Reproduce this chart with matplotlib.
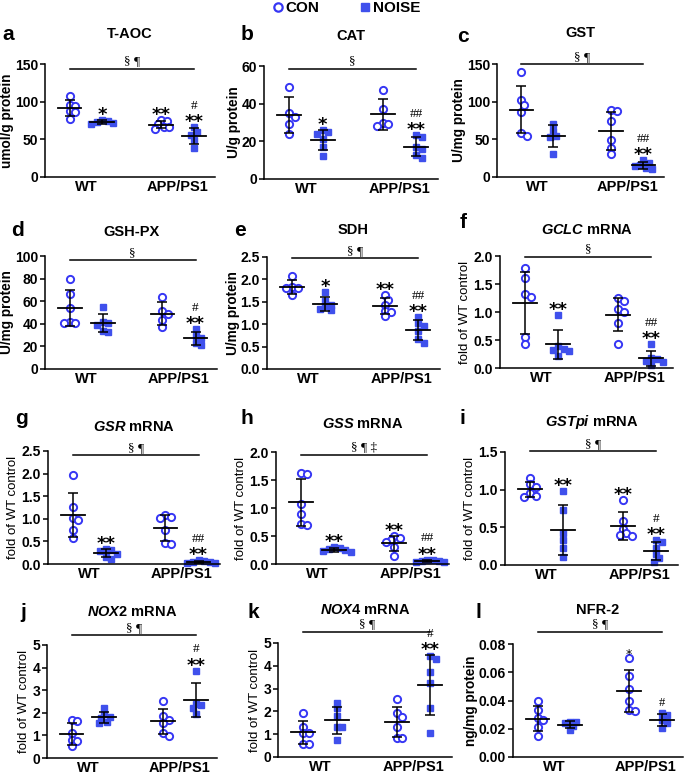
import numpy as np
import matplotlib.pyplot as plt
from matplotlib.lines import Line2D
from matplotlib.ticker import FormatStrFormatter
import matplotlib.transforms as mtransforms

plt.rcParams['font.family'] = ['Liberation Sans', 'DejaVu Sans']
plt.rcParams['mathtext.fontset'] = 'custom'
plt.rcParams['mathtext.it'] = 'Liberation Sans:italic:bold'
plt.rcParams['mathtext.rm'] = 'Liberation Sans:bold'

W, H = 685, 776
fig = plt.figure(figsize=(W / 100, H / 100), dpi=100)

BLUE_O = '#3636f4'
BLUE_S = '#3f50ec'

# group order: CON WT, NOISE WT, CON APP/PS1, NOISE APP/PS1
genotypes = ['WT', 'APP/PS1']
taoc = [[108, 96, 94, 87, 86, 77], [76, 75, 73, 72, 70], [76, 75, 70, 67, 66, 64], [66, 60, 56, 49, 39]]
cat = [[49, 35, 33, 29, 24], [26, 25, 24, 21, 17, 12], [47.5, 37, 30, 29, 28], [23.5, 22.5, 17, 16, 13, 11]]
gst = [[140, 102, 96, 86, 58, 55], [70, 61, 55, 53, 31], [89, 87, 74, 49, 38, 31], [22, 19, 16, 15, 12, 10]]
gshpx = [[80, 66, 54, 42, 41, 41], [55, 42, 41, 39, 34, 33], [64, 51, 49, 43, 37], [35, 29, 27, 23, 21]]
sdh = [[2.07, 1.83, 1.81, 1.80, 1.65], [1.72, 1.52, 1.43, 1.40, 1.33, 1.31],
       [1.65, 1.55, 1.43, 1.30, 1.28, 1.18], [1.15, 1.02, 0.95, 0.84, 0.67, 0.58]]
gclc = [[1.79, 1.60, 1.32, 1.26, 0.56, 0.43], [0.94, 0.40, 0.34, 0.33, 0.31, 0.22],
        [1.25, 1.20, 1.05, 1.00, 0.80, 0.43], [0.43, 0.18, 0.16, 0.12, 0.10, 0.05]]
gsr = [[1.96, 1.27, 1.01, 0.98, 0.76, 0.57], [0.33, 0.31, 0.28, 0.22, 0.16, 0.12],
       [1.09, 1.03, 1.01, 0.76, 0.46, 0.44], [0.08, 0.06, 0.05, 0.04, 0.03, 0.03]]
gss = [[1.62, 1.61, 1.08, 0.90, 0.72, 0.70], [0.30, 0.28, 0.26, 0.25, 0.23, 0.21],
       [0.50, 0.46, 0.42, 0.40, 0.30, 0.14], [0.08, 0.07, 0.06, 0.05, 0.04, 0.04]]
gstpi = [[1.16, 1.07, 1.04, 0.95, 0.91, 0.90], [0.98, 0.73, 0.43, 0.33, 0.22, 0.10],
         [0.86, 0.58, 0.48, 0.42, 0.40, 0.38], [0.33, 0.31, 0.22, 0.15, 0.09, 0.04]]
nox2 = [[1.69, 1.62, 1.10, 0.81, 0.74, 0.51], [2.20, 1.95, 1.80, 1.75, 1.60, 1.55],
        [2.54, 1.84, 1.69, 1.57, 1.10, 0.96], [3.87, 2.40, 2.35, 2.20, 1.94]]
nox4 = [[1.91, 1.32, 1.06, 1.06, 0.59, 0.56], [2.38, 2.13, 1.79, 1.32, 1.32, 0.76],
        [2.53, 1.94, 1.76, 1.32, 0.85, 0.85], [4.44, 4.31, 3.72, 3.24, 2.16, 1.06]]
nfr2 = [[0.0396, 0.0332, 0.0273, 0.0261, 0.0214, 0.0147], [0.025, 0.025, 0.024, 0.022, 0.019],
        [0.070, 0.0575, 0.048, 0.040, 0.0332, 0.0328], [0.0313, 0.0297, 0.0261, 0.024, 0.0202]]

fold = 'fold of WT control'
# letter, title, ylabel, data, ytop, ystep, fmt, stars, hashes, bar text
panels = [
    ('a', 'T-AOC', 'umol/g protein', taoc, 150, 50, '%d', ['', '*', '**', '**'], ['', '', '', '#'], '§ ¶'),
    ('b', 'CAT', 'U/g protein', cat, 60, 20, '%d', ['', '*', '', '**'], ['', '', '', '##'], '§'),
    ('c', 'GST', 'U/mg protein', gst, 150, 50, '%d', ['', '', '', '**'], ['', '', '', '##'], '§ ¶'),
    ('d', 'GSH-PX', 'U/mg protein', gshpx, 100, 20, '%d', ['', '', '', '**'], ['', '', '', '#'], '§'),
    ('e', 'SDH', 'U/mg protein', sdh, 2.5, 0.5, '%.1f', ['', '*', '**', '**'], ['', '', '', '##'], '§ ¶'),
    ('f', r'$\it{GCLC}$ mRNA', fold, gclc, 2.0, 0.5, '%.1f', ['', '**', '', '**'], ['', '', '', '##'], '§'),
    ('g', r'$\it{GSR}$ mRNA', fold, gsr, 2.5, 0.5, '%.1f', ['', '**', '', '**'], ['', '', '', '##'], '§ ¶'),
    ('h', r'$\it{GSS}$ mRNA', fold, gss, 2.0, 0.5, '%.1f', ['', '**', '**', '**'], ['', '', '', '##'], '§ ¶ ‡'),
    ('i', r'$\it{GSTpi}$ mRNA', fold, gstpi, 1.5, 0.5, '%.1f', ['', '**', '**', '**'], ['', '', '', '#'], '§ ¶'),
    ('j', r'$\it{NOX2}$ mRNA', fold, nox2, 5, 1, '%d', ['', '', '', '**'], ['', '', '', '#'], '§ ¶'),
    ('k', r'$\it{NOX4}$ mRNA', fold, nox4, 5, 1, '%d', ['', '', '', '**'], ['', '', '', '#'], '§ ¶'),
    ('l', 'NFR-2', 'ng/mg protein', nfr2, 0.08, 0.02, '%.2f', ['', '', '*', ''], ['', '', '', '#'], '§ ¶'),
]

# layout in pixels: axes box (left, top, right, bottom), letter position, title offset, bar height
boxes = [(45, 64, 215, 177), (264, 66, 438, 179), (497, 64, 664, 177),
         (45, 256, 217, 369), (267, 257, 440, 369), (500, 256, 673, 368),
         (48, 451, 220, 564), (276, 452, 449, 564), (505, 452, 678, 565),
         (47, 645, 217, 758), (278, 643, 452, 757), (513, 644, 683, 757)]
letter_xy = [(8, 35), (247, 35), (463, 36), (17, 230), (240, 230), (463, 222),
             (22, 418), (247, 418), (462, 418), (23, 613), (253, 612), (478, 612)]
title_dy = [30, 30, 31, 24, 27, 26, 24, 28, 30, 33, 33, 34]
bar_y = [0.96, 0.974, 1.0, 0.962, 0.99, 0.99, 0.965, 0.976, 1.005, 1.088, 1.1, 1.107]

xpos = [0, 1, 2.8, 3.8]
DIAM = 7.0


def swarm_x(ax, x0, vals):
    pts = ax.transData.transform(np.column_stack([np.full(len(vals), x0), vals]))
    px0 = pts[0, 0]
    ys = pts[:, 1]
    placed = []
    out = np.zeros(len(vals))
    step = DIAM * 0.4
    for i in np.argsort(-ys):
        for k in range(40):
            offs = [0.0] if k == 0 else [k * step, -k * step]
            done = False
            for o in offs:
                ok = all(np.hypot(px0 + o - px, ys[i] - py) >= DIAM * 0.72 for px, py in placed)
                if ok:
                    placed.append((px0 + o, ys[i]))
                    out[i] = px0 + o
                    done = True
                    break
            if done:
                break
    inv = ax.transData.inverted()
    return inv.transform(np.column_stack([out, ys]))[:, 0]


for n, (letter, title, ylab, data, ytop, ystep, fmt, stars, hashes, bartxt) in enumerate(panels):
    l, t, r, b = boxes[n]
    ax = fig.add_axes([l / W, 1 - b / H, (r - l) / W, (b - t) / H])
    ax.set_xlim(-0.75, 4.45)
    ax.set_ylim(0, ytop)
    ax.set_yticks(np.arange(0, ytop + ystep / 2, ystep))
    ax.yaxis.set_major_formatter(FormatStrFormatter(fmt))
    for s in ['top', 'right']:
        ax.spines[s].set_visible(False)
    for s in ['left', 'bottom']:
        ax.spines[s].set_linewidth(1.1)
    ax.tick_params(axis='y', length=3.5, width=1.1, pad=1.5, labelsize=10)
    ax.tick_params(axis='x', length=0, pad=2.5, labelsize=10.5)
    ax.set_xticks([0.5, 3.3])
    ax.set_xticklabels(genotypes)
    for lab in ax.get_xticklabels() + ax.get_yticklabels():
        lab.set_fontweight('bold')
    small = letter == 'l'
    if ylab == fold:
        ax.set_ylabel(ylab, fontsize=9.5, labelpad=2)
    else:
        ax.set_ylabel(ylab, fontsize=9.8, fontweight='bold', labelpad=0.5)

    for g, vals in enumerate(data):
        vals = np.array(vals, dtype=float)
        x = xpos[g]
        xs = swarm_x(ax, x, vals)
        if g % 2 == 0:
            ax.plot(xs, vals, 'o', ms=5.2, mfc='white', mec=BLUE_O, mew=1.4, ls='none',
                    clip_on=False, zorder=2)
        else:
            ax.plot(xs, vals, 's', ms=5.0, color=BLUE_S, ls='none', clip_on=False, zorder=2)
        m = vals.mean()
        sd = vals.std(ddof=1)
        ax.plot([x - 0.36, x + 0.36], [m, m], color='black', lw=1.3, zorder=3, clip_on=False)
        ax.errorbar(x, m, yerr=sd, fmt='none', ecolor='black', elinewidth=1.1,
                    capsize=3.4, capthick=1.1, zorder=3, clip_on=False)
        top = max(vals.max(), m + sd)
        if stars[g]:
            ax.annotate(stars[g], (x, top), xytext=(0, 0),
                        textcoords='offset points', ha='center', va='baseline',
                        fontsize=9 if small else 13, fontweight='normal' if small else 'bold',
                        family='DejaVu Sans', annotation_clip=False)
        if hashes[g]:
            dy = 13 if stars[g] else 5
            ax.annotate(hashes[g], (x, top), xytext=(0, dy), textcoords='offset points',
                        ha='center', va='baseline', fontsize=9 if small else 9.5,
                        family='Liberation Serif', annotation_clip=False)

    trans = mtransforms.blended_transform_factory(ax.transData, ax.transAxes)
    ax.plot([xpos[0], xpos[3]], [bar_y[n], bar_y[n]], color='black', lw=1.1,
            transform=trans, clip_on=False)
    ax.annotate(bartxt, (np.mean([xpos[0], xpos[3]]), bar_y[n]), xycoords=trans,
                xytext=(0, 1), textcoords='offset points', ha='center', va='bottom',
                fontsize=9.5, family='Liberation Serif')

    ax.annotate(title, (0.5, 1), xycoords='axes fraction', xytext=(0, title_dy[n] * 0.72),
                textcoords='offset points', ha='center', va='center', fontsize=10.5,
                fontweight='bold')
    lx, ly = letter_xy[n]
    fig.text(lx / W, 1 - ly / H, letter, ha='center', va='center', fontsize=15, fontweight='bold')

handles = [Line2D([], [], marker='o', ls='none', ms=6, mfc='white', mec=BLUE_O, mew=1.6),
           Line2D([], [], marker='s', ls='none', ms=6, color=BLUE_S)]
fig.legend(handles, ['CON', 'NOISE'], loc='center', bbox_to_anchor=(346 / W, 1 - 8 / H),
           ncol=2, frameon=False, handlelength=0.8, handletextpad=0.1, columnspacing=2.6,
           prop={'weight': 'bold', 'size': 11})

fig.savefig('out.png', dpi=100, facecolor='white')
